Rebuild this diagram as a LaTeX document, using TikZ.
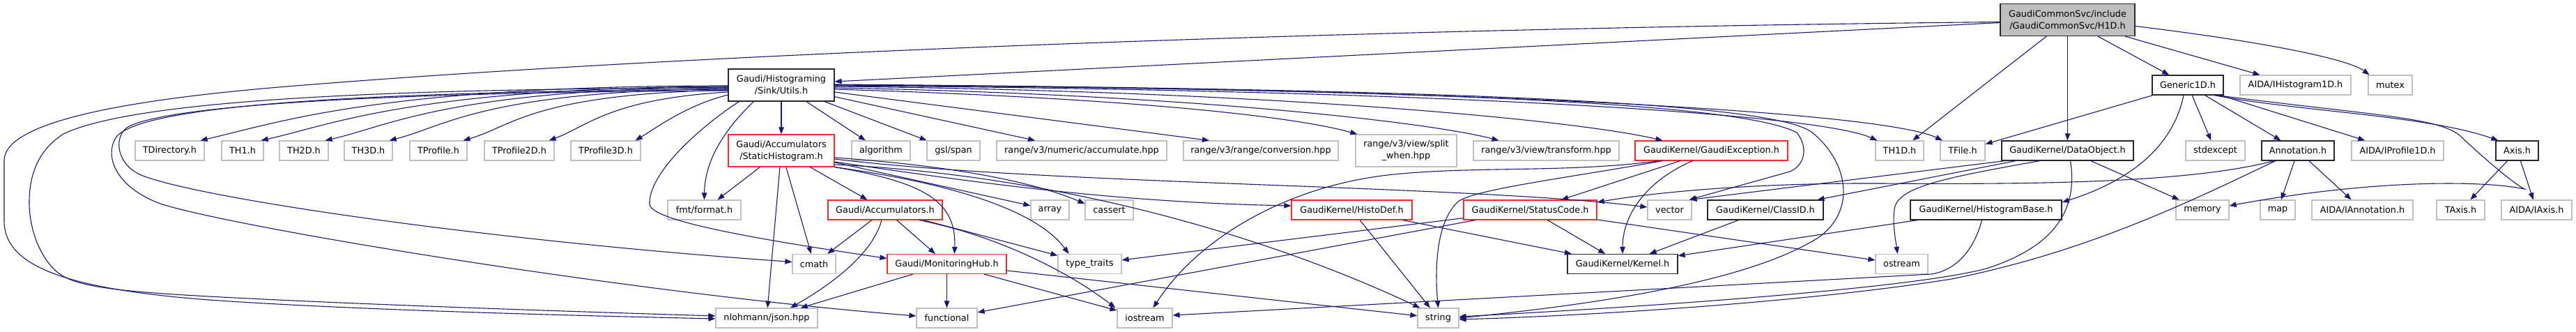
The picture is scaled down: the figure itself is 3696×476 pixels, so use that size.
\documentclass[tikz,border=0pt]{standalone}
\usepackage{fontspec}
\usepackage{xcolor}
\usetikzlibrary{arrows.meta}
\newfontfamily\dejavu{DejaVu Sans}
\newcommand{\dvs}{\dejavu\fontsize{12.8}{17}\selectfont}
\definecolor{incblue}{RGB}{25,25,112}
\definecolor{extgray}{RGB}{191,191,191}
\definecolor{docblack}{RGB}{40,40,40}
\definecolor{cutred}{RGB}{250,40,40}
\tikzset{%
	header/.style   = {draw = extgray, rectangle, minimum height = 28pt, inner sep = 0pt, line width = 1.2pt, font = \dvs}, % system header
	dochead/.style  = {header, draw = docblack}, % documented
	cuthead/.style  = {header, draw = cutred}, % truncated
	mainhead/.style = {header, draw = docblack, fill = extgray}, % this file
	twoline/.style  = {minimum height = 46pt, align = center},
	inc/.style      = {->, draw = incblue, line width = 1.1pt}, % include
}

\begin{document}
\begin{tikzpicture}[x = 1pt, y = -1pt, >={Triangle[length = 10pt, width = 7.5pt]}]
		\path[use as bounding box, fill = white] (0,0) rectangle (3696,476);
		\node[mainhead, twoline, minimum width = 193pt] (h1d) at (2966.5,28.5) {GaudiCommonSvc/include\\/GaudiCommonSvc/H1D.h};
		\node[dochead, twoline, minimum width = 152pt] (utils) at (1121,122) {Gaudi/Histograming\\/Sink/Utils.h};
		\node[dochead, minimum width = 102pt] (gen1d) at (3139,122) {Generic1D.h};
		\node[header, minimum width = 159pt] (ihist) at (3293.5,122) {AIDA/IHistogram1D.h};
		\node[header, minimum width = 63pt] (mutex) at (3429.5,122) {mutex};
		\node[header, minimum width = 99pt] (tdir) at (243.5,216) {TDirectory.h};
		\node[header, minimum width = 60pt] (th1) at (348,216) {TH1.h};
		\node[header, minimum width = 70pt] (th2d) at (436,216) {TH2D.h};
		\node[header, minimum width = 69pt] (th3d) at (528.5,216) {TH3D.h};
		\node[header, minimum width = 82pt] (tprof) at (629,216) {TProfile.h};
		\node[header, minimum width = 100pt] (tprof2d) at (745,216) {TProfile2D.h};
		\node[header, minimum width = 100pt] (tprof3d) at (869,216) {TProfile3D.h};
		\node[cuthead, twoline, minimum width = 152pt] (stathist) at (1121,216) {Gaudi/Accumulators\\/StaticHistogram.h};
		\node[header, minimum width = 84pt] (algo) at (1264,216) {algorithm};
		\node[header, minimum width = 76pt] (gslspan) at (1368,216) {gsl/span};
		\node[header, minimum width = 244pt] (rvaccum) at (1552,216) {range/v3/numeric/accumulate.hpp};
		\node[header, minimum width = 222pt] (rvconv) at (1809,216) {range/v3/range/conversion.hpp};
		\node[header, twoline, minimum width = 145pt] (rvsplit) at (2017.5,216) {range/v3/view/split\\\_when.hpp};
		\node[header, minimum width = 209pt] (rvtrans) at (2218.5,216) {range/v3/view/transform.hpp};
		\node[cuthead, minimum width = 219pt] (gexc) at (2455.5,216) {GaudiKernel/GaudiException.h};
		\node[header, minimum width = 69pt] (th1d) at (2725.5,216) {TH1D.h};
		\node[header, minimum width = 64pt] (tfile) at (2816,216) {TFile.h};
		\node[dochead, minimum width = 189pt] (dataobj) at (2966.5,216) {GaudiKernel/DataObject.h};
		\node[header, minimum width = 85pt] (stdexc) at (3178.5,216) {stdexcept};
		\node[dochead, minimum width = 104pt] (annot) at (3297,216) {Annotation.h};
		\node[header, minimum width = 132pt] (iprof) at (3440,216) {AIDA/IProfile1D.h};
		\node[dochead, minimum width = 61pt] (axis) at (3611.5,216) {Axis.h};
		\node[header, minimum width = 105pt] (fmt) at (1010.5,301) {fmt/format.h};
		\node[cuthead, minimum width = 164pt] (accs) at (1270,301) {Gaudi/Accumulators.h};
		\node[header, minimum width = 55pt] (array) at (1506.5,301) {array};
		\node[header, minimum width = 69pt] (cassert) at (1591.5,301) {cassert};
		\node[cuthead, minimum width = 173pt] (histodef) at (1939.5,301) {GaudiKernel/HistoDef.h};
		\node[cuthead, minimum width = 191pt] (status) at (2195.5,301) {GaudiKernel/StatusCode.h};
		\node[header, minimum width = 63pt] (vector) at (2395.5,301) {vector};
		\node[dochead, minimum width = 166pt] (classid) at (2533,301) {GaudiKernel/ClassID.h};
		\node[dochead, minimum width = 217pt] (histbase) at (2849.5,301) {GaudiKernel/HistogramBase.h};
		\node[header, minimum width = 76pt] (memory) at (3160,301) {memory};
		\node[header, minimum width = 50pt] (map) at (3268,301) {map};
		\node[header, minimum width = 145pt] (iannot) at (3389.5,301) {AIDA/IAnnotation.h};
		\node[header, minimum width = 69pt] (taxis) at (3530.5,301) {TAxis.h};
		\node[header, minimum width = 101pt] (iaxis) at (3639.5,301) {AIDA/IAxis.h};
		\node[header, minimum width = 62pt] (cmath) at (1168,378.5) {cmath};
		\node[cuthead, minimum width = 171pt] (monhub) at (1358.5,378.5) {Gaudi/MonitoringHub.h};
		\node[header, minimum width = 91pt] (typetr) at (1563.5,378.5) {type\_traits};
		\node[dochead, minimum width = 158pt] (kernel) at (2328,378.5) {GaudiKernel/Kernel.h};
		\node[header, minimum width = 75pt] (ostream) at (2728.5,378.5) {ostream};
		\node[header, minimum width = 146pt] (json) at (1100,456) {nlohmann/json.hpp};
		\node[header, minimum width = 87pt] (functional) at (1358.5,456) {functional};
		\node[header, minimum width = 79pt] (iostream) at (1642.5,456) {iostream};
		\node[header, minimum width = 59pt] (string) at (2063.5,456) {string};
		\draw[inc] (h1d) -- (th1d);
		\draw[inc] (h1d) -- (dataobj);
		\draw[inc] (h1d) -- (gen1d);
		\draw[inc] (h1d) -- (ihist);
		\draw[inc] ([yshift=-9pt]h1d.east) .. controls (3250,60) and (3370,85) .. ([xshift=-30pt]mutex.north);
		\draw[inc] ([yshift=-4pt]h1d.west) -- ([yshift=5pt]utils.east);
		\draw[inc] ([yshift=-3pt]h1d.west) .. controls (2000,40) and (1000,75) .. (400,125) .. controls (150,146) and (6,180) .. (6,230) -- (6,317) .. controls (6,380) and (90,414) .. (300,430) .. controls (500,444) and (800,452) .. ([yshift=-1pt]json.west);
		\draw[inc] ([yshift=-4pt]utils.west) .. controls (600,127) and (200,140) .. (91,192) .. controls (55,215) and (42,250) .. (42,290) .. controls (42,335) and (62,378) .. (89,395) .. controls (115,411) and (170,418) .. (300,425) .. controls (500,436) and (800,446) .. ([yshift=3pt]json.west);
		\draw[inc] ([yshift=-6pt]utils.west) .. controls (600,131) and (215,145) .. (168,195) .. controls (148,222) and (165,268) .. (230,292) .. controls (330,325) and (900,420) .. ([yshift=3pt]functional.west);
		\draw[inc] ([yshift=-8pt]utils.west) .. controls (600,132) and (240,148) .. (182,183) .. controls (162,198) and (168,238) .. (205,252) .. controls (290,285) and (700,345) .. ([yshift=3pt]cmath.west);
		\draw[inc] ([yshift=-1pt]utils.west) .. controls +(-500,0) and +(110,-25) .. ([xshift=-6pt]tdir.north east);
		\draw[inc] ([yshift=-2pt]utils.west) .. controls +(-450,2) and +(100,-22) .. ([xshift=-4pt]th1.north east);
		\draw[inc] ([yshift=-3pt]utils.west) .. controls +(-400,3) and +(90,-20) .. ([xshift=-5pt]th2d.north east);
		\draw[inc] ([yshift=-5pt]utils.west) .. controls +(-350,4) and +(80,-20) .. ([xshift=-5pt]th3d.north east);
		\draw[inc] ([yshift=-7pt]utils.west) .. controls +(-280,6) and +(70,-20) .. ([xshift=-6pt]tprof.north east);
		\draw[inc] ([yshift=-10pt]utils.west) .. controls +(-170,10) and +(55,-20) .. ([xshift=-8pt]tprof2d.north east);
		\draw[inc] ([yshift=-14pt]utils.west) .. controls +(-60,15) and +(30,-18) .. ([xshift=-8pt]tprof3d.north east);
		\draw[inc] ([xshift=37pt]utils.south west) .. controls (1040,185) and (1011,230) .. (fmt.north);
		\draw[inc] ([xshift=16pt]utils.south west) .. controls (1000,185) and (930,250) .. (932,293) .. controls (935,318) and (1100,345) .. ([yshift=8pt]monhub.west);
		\draw[inc] (utils) -- (stathist);
		\draw[inc] (utils) -- (algo);
		\draw[inc] (utils) -- (gslspan);
		\draw[inc] (utils) -- (rvaccum);
		\draw[inc] ([yshift=-10pt]utils.east) -- ([xshift=-74pt]rvconv.north);
		\draw[inc] ([yshift=-6pt]utils.east) .. controls (1600,140) and (1850,165) .. ([xshift=3pt]rvsplit.north west);
		\draw[inc] ([yshift=-4pt]utils.east) .. controls (1700,135) and (2050,175) .. ([xshift=-68pt]rvtrans.north);
		\draw[inc] ([yshift=-2pt]utils.east) .. controls (1800,130) and (2250,170) .. ([xshift=-70pt]gexc.north);
		\draw[inc] ([yshift=-1pt]utils.east) .. controls (2000,128) and (2600,160) .. ([xshift=-32pt]th1d.north);
		\draw[inc] (utils.east) .. controls (2100,126) and (2700,160) .. ([xshift=-29pt]tfile.north);
		\draw[inc] (utils.east) .. controls (2100,128) and (2500,150) .. (2578,190) .. controls (2596,213) and (2588,238) .. (2568,246) -- ([xshift=-4pt]vector.north east);
		\draw[inc] ([yshift=1pt]utils.east) .. controls (2150,128) and (2550,150) .. (2600,190) .. controls (2650,230) and (2665,300) .. (2610,340) .. controls (2500,410) and (2250,440) .. (string.east);
		\draw[inc] (stathist) -- (fmt);
		\draw[inc] (stathist) -- (json);
		\draw[inc] (stathist) -- (cmath);
		\draw[inc] (stathist) -- (accs);
		\draw[inc] (stathist.south east) .. controls (1330,262) and (1372,290) .. ([xshift=11pt]monhub.north);
		\draw[inc] (stathist) -- (array);
		\draw[inc] ([yshift=-10pt]stathist.east) .. controls (1400,240) and (1500,268) .. ([yshift=9pt]cassert.west);
		\draw[inc] (stathist.south east) .. controls (1380,265) and (1490,305) .. ([xshift=-30pt]typetr.north);
		\draw[inc] ([yshift=-16pt]stathist.east) .. controls (1400,262) and (1600,290) .. ([yshift=6pt]histodef.west);
		\draw[inc] ([yshift=-12pt]stathist.east) .. controls (1500,265) and (2100,265) .. ([yshift=4pt]vector.west);
		\draw[inc] ([yshift=-20pt]stathist.east) .. controls (1500,250) and (1800,330) .. ([xshift=4pt]string.north west);
		\draw[inc] (accs) -- (cmath);
		\draw[inc] ([xshift=-5pt]accs.south) .. controls (1250,370) and (1180,415) .. ([xshift=34pt]json.north);
		\draw[inc] (accs) -- (monhub);
		\draw[inc] (accs) -- (typetr);
		\draw[inc] ([xshift=-34pt]accs.south east) .. controls (1440,340) and (1540,395) .. ([xshift=-2pt]iostream.north west);
		\draw[inc] (monhub) -- (json);
		\draw[inc] (monhub) -- (functional);
		\draw[inc] (monhub) -- (iostream);
		\draw[inc] (monhub) -- (string);
		\draw[inc] (histodef) -- (string);
		\draw[inc] (histodef) -- (kernel);
		\draw[inc] (status) -- (kernel);
		\draw[inc] (status) -- (ostream);
		\draw[inc] (status) -- (typetr);
		\draw[inc] (status) -- (functional);
		\draw[inc] (gexc) -- (status);
		\draw[inc] ([xshift=-27pt]gexc.south) .. controls (2360,260) and (2328,310) .. (kernel.north);
		\draw[inc] ([xshift=-70pt]gexc.south) .. controls (2250,255) and (2110,272) .. (2091,290) .. controls (2062,318) and (2058,380) .. (string.north);
		\draw[inc] ([xshift=-75pt]gexc.south) .. controls (2250,248) and (2120,238) .. (2000,250) .. controls (1850,265) and (1720,340) .. ([xshift=12pt]iostream.north);
		\draw[inc] (classid) -- (kernel);
		\draw[inc] (histbase) -- (kernel);
		\draw[inc] ([xshift=-6pt]histbase.south) .. controls (2832,360) and (2805,388) .. (2771,393) -- ([yshift=4pt]iostream.east);
		\draw[inc] (dataobj) -- (classid);
		\draw[inc] ([xshift=-90pt]dataobj.south) -- ([xshift=-3pt]vector.north east);
		\draw[inc] ([xshift=-40pt]dataobj.south) .. controls (2790,255) and (2722,268) .. (2718,300) .. controls (2715,322) and (2720,345) .. ([xshift=-6pt]ostream.north);
		\draw[inc] (dataobj) -- (memory);
		\draw[inc] ([xshift=4pt]dataobj.south) .. controls (2980,290) and (2960,350) .. (2850,385) .. controls (2750,412) and (2400,438) .. ([yshift=2pt]string.east);
		\draw[inc] (gen1d) -- (tfile);
		\draw[inc] ([xshift=-6pt]gen1d.south) .. controls (3120,200) and (3070,255) .. ([yshift=11pt]histbase.east);
		\draw[inc] (gen1d) -- (stdexc);
		\draw[inc] (gen1d) -- (annot);
		\draw[inc] (gen1d) -- (iprof);
		\draw[inc] ([xshift=-14pt]gen1d.south east) .. controls (3300,160) and (3480,165) .. ([xshift=4pt]axis.north west);
		\draw[inc] ([xshift=-10pt]gen1d.south east) .. controls (3400,165) and (3500,168) .. (3530,195) .. controls (3565,228) and (3605,262) .. (3622,271) .. controls (3560,258) and (3400,258) .. ([yshift=6pt]memory.east);
		\draw[inc] (annot) -- (map);
		\draw[inc] (annot) -- (iannot);
		\draw[inc] ([xshift=-34pt]annot.south) .. controls (3150,260) and (2950,265) .. (2700,263) .. controls (2500,262) and (2360,278) .. ([yshift=11pt]status.east);
		\draw[inc] ([xshift=-32pt]annot.south) .. controls (3150,285) and (3000,360) .. (2800,400) .. controls (2600,432) and (2300,452) .. ([yshift=-2pt]string.east);
		\draw[inc] (axis) -- (taxis);
		\draw[inc] (axis) -- (iaxis);
		\end{tikzpicture}
\end{document}
